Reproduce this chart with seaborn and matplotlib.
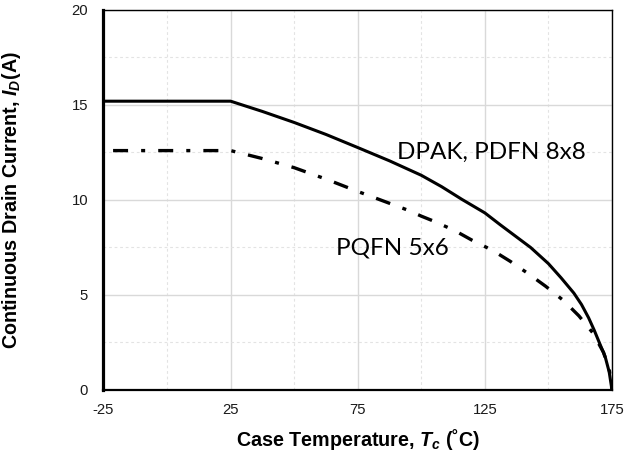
import matplotlib
matplotlib.use("Agg")
import matplotlib.pyplot as plt
import seaborn as sns
import pandas as pd
from matplotlib.ticker import FixedLocator

# ---- data ----
temp_dpak = [-25, 25, 37.5, 50, 62.5, 75, 87.5, 100, 108, 116, 125, 131, 138, 143, 150, 155,
             160, 163, 165.8, 168, 170, 172.3, 173.9, 175]
curr_dpak = [15.2, 15.2, 14.66, 14.08, 13.45, 12.76, 12.06, 11.3, 10.7, 10.03, 9.32, 8.7,
             8.0, 7.5, 6.65, 5.9, 5.1, 4.5, 3.8, 3.15, 2.5, 1.76, 0.95, 0.0]

temp_pqfn = [-25, 25, 37.5, 50, 62.5, 75, 85, 95, 100, 105, 113, 120, 128, 135, 142, 149,
             156, 162, 167.5, 171.7, 174, 175]
curr_pqfn = [12.6, 12.6, 12.18, 11.7, 11.1, 10.45, 9.95, 9.45, 9.15, 8.88, 8.4, 7.88, 7.35,
             6.77, 6.13, 5.45, 4.7, 3.9, 3.0, 1.97, 1.0, 0.0]

x_major = [-25, 25, 75, 125, 175]
x_minor = [0, 50, 100, 150]
y_major = [0, 5, 10, 15, 20]
y_minor = [2.5, 7.5, 12.5, 17.5]
x_ticklabels = ["-25", "25", "75", "125", "175"]
y_ticklabels = ["0", "5", "10", "15", "20"]

label_dpak = "DPAK, PDFN 8x8"
label_pqfn = "PQFN 5x6"
xlabel = "Case Temperature, $T_c$ (\u02daC)"
ylabel = "Continuous Drain Current, $I_D$(A)"

df_dpak = pd.DataFrame({"T": temp_dpak, "I": curr_dpak})
df_pqfn = pd.DataFrame({"T": temp_pqfn, "I": curr_pqfn})

sns.set_theme(style="white")
plt.rcParams["font.family"] = ["Liberation Sans", "DejaVu Sans"]
plt.rcParams["mathtext.fontset"] = "custom"
plt.rcParams["mathtext.rm"] = "Liberation Sans:bold"
plt.rcParams["mathtext.it"] = "Liberation Sans:bold:italic"
plt.rcParams["mathtext.bf"] = "Liberation Sans:bold"
plt.rcParams["lines.scale_dashes"] = False

fig = plt.figure(figsize=(6.28, 4.54), dpi=100)
ax = fig.add_axes([0.1648, 0.141, 0.8097, 0.837])

sns.lineplot(data=df_dpak, x="T", y="I", ax=ax, color="black", linewidth=2.2,
             sort=False, estimator=None)
sns.lineplot(data=df_pqfn, x="T", y="I", ax=ax, color="black", linewidth=2.4,
             sort=False, estimator=None,
             linestyle=(25.6, (10.8, 9.4, 2.9, 9.4)))

ax.set_xlim(-25, 175)
ax.set_ylim(0, 20)
ax.xaxis.set_major_locator(FixedLocator(x_major))
ax.xaxis.set_minor_locator(FixedLocator(x_minor))
ax.yaxis.set_major_locator(FixedLocator(y_major))
ax.yaxis.set_minor_locator(FixedLocator(y_minor))
ax.set_xticklabels(x_ticklabels)
ax.set_yticklabels(y_ticklabels)

ax.grid(True, which="major", color="#d9d9d9", linewidth=1.0, linestyle="-")
ax.grid(True, which="minor", color="#e3e3e3", linewidth=0.8, linestyle=(0, (2, 2)))
ax.set_axisbelow(True)

ax.tick_params(axis="both", which="both", length=0, labelsize=10.7, labelcolor="#1a1a1a")
ax.tick_params(axis="x", pad=9.4)
ax.tick_params(axis="y", pad=11)

for side, lw in {"left": 2.3, "bottom": 1.6, "top": 1.0, "right": 1.0}.items():
    ax.spines[side].set_visible(True)
    ax.spines[side].set_color("black")
    ax.spines[side].set_linewidth(lw)

ax.set_xlabel(xlabel, fontsize=14.2, fontweight="bold", color="black", va="baseline")
ax.set_ylabel(ylabel, fontsize=14.2, fontweight="bold", color="black", va="baseline")
ax.xaxis.set_label_coords(0.5, -0.147)
ax.yaxis.set_label_coords(-0.1705, 0.5)

ax.text(90.5, 12.17, label_dpak, fontsize=17.5, family=["Lato", "DejaVu Sans"],
        color="black", va="baseline", ha="left")
ax.text(66.5, 7.12, label_pqfn, fontsize=17.5, family=["Lato", "DejaVu Sans"],
        color="black", va="baseline", ha="left")

fig.savefig("out.png", dpi=100)
